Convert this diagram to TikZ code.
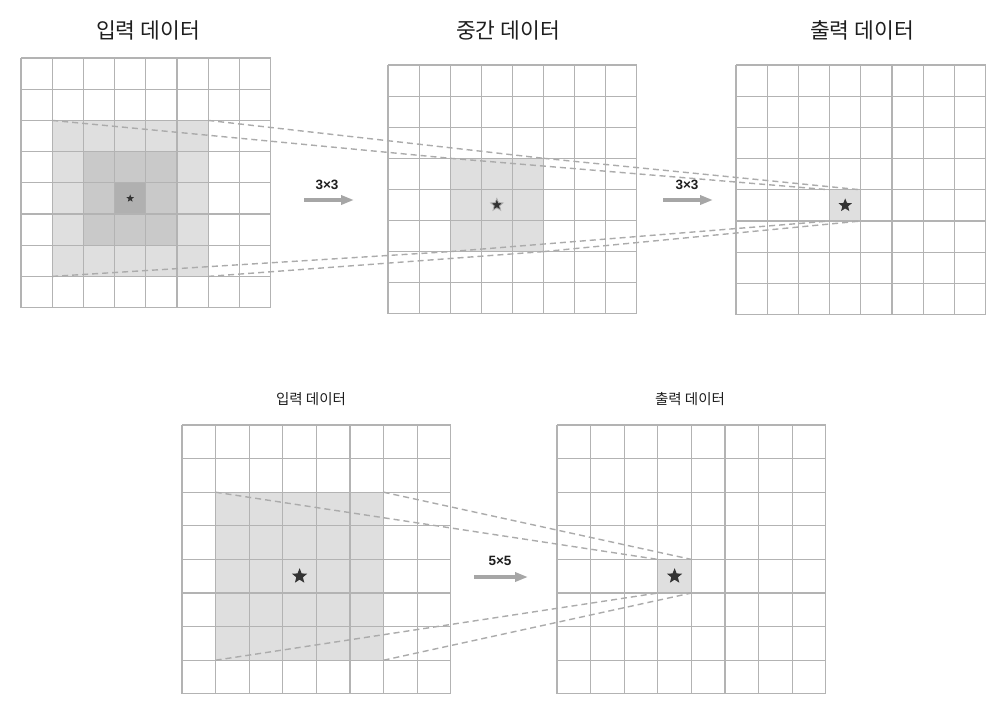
\documentclass[tikz,border=0pt]{standalone}
\usepackage{fontspec}
\newfontfamily\kr{Noto Sans CJK KR}
\setsansfont{Liberation Sans}
\usetikzlibrary{shapes.geometric,arrows.meta}
\definecolor{gridc}{HTML}{B3B3B3}
\definecolor{lightg}{HTML}{DFDFDF}
\definecolor{midg}{HTML}{C9C9C9}
\definecolor{darkg}{HTML}{B0B0B0}
\definecolor{dashc}{HTML}{ABABAB}
\definecolor{arrowc}{HTML}{A6A6A6}
\definecolor{starc}{HTML}{333333}
\definecolor{textc}{HTML}{1E1E1E}
\tikzset{
  gridline/.style={draw=gridc, line width=1.1pt},
  dashline/.style={draw=dashc, line width=1.4pt, dash pattern=on 6pt off 4pt},
  bigarrow/.style={draw=arrowc, line width=3.6pt, -{Triangle[length=13pt,width=9pt]}},
  starnode/.style={star, star points=5, star point ratio=2.3, fill=starc, inner sep=0pt},
  bigtitle/.style={font=\kr\fontsize{21.5}{24}\selectfont, text=textc, inner sep=0pt},
  smalltitle/.style={font=\kr\fontsize{14.5}{17}\selectfont, text=textc, inner sep=0pt},
  oplabel/.style={font=\sffamily\bfseries\fontsize{13.5}{15}\selectfont, text=textc, inner sep=0pt},
}
\newcommand{\gridlines}{%
  \foreach \i in {0,...,8} {
    \draw[gridline] (\i,0) -- (\i,8);
    \draw[gridline] (0,\i) -- (8,\i);
  }%
}
\begin{document}
\begin{tikzpicture}[x=1pt,y=-1pt]
\useasboundingbox[fill=white] (0,0) rectangle (1007,713);

% ---------- top: input ----------
\begin{scope}[shift={(21,58)}, x=31.2pt, y=-31.2pt]
  \fill[lightg] (1,2) rectangle (6,7);
  \fill[midg] (2,3) rectangle (5,6);
  \fill[darkg] (3,4) rectangle (4,5);
  \gridlines
  \coordinate (iTL) at (1,2); \coordinate (iTR) at (6,2);
  \coordinate (iBL) at (1,7); \coordinate (iBR) at (6,7);
  \node[starnode, minimum size=8pt] (istar) at (3.5,4.5) {};
\end{scope}

% ---------- top: intermediate ----------
\begin{scope}[shift={(388,65)}, x=31.1pt, y=-31.1pt]
  \fill[lightg] (2,3) rectangle (5,6);
  \gridlines
  \coordinate (mTL) at (2,3); \coordinate (mTR) at (5,3);
  \coordinate (mBL) at (2,6); \coordinate (mBR) at (5,6);
  \node[starnode, minimum size=13pt, draw=darkg, line width=0.8pt] (mstar) at (3.5,4.5) {};
\end{scope}

% ---------- top: output ----------
\begin{scope}[shift={(736,65)}, x=31.2pt, y=-31.2pt]
  \fill[lightg] (3,4) rectangle (4,5);
  \gridlines
  \coordinate (oTL) at (3,4); \coordinate (oTR) at (4,4);
  \coordinate (oBL) at (3,5); \coordinate (oBR) at (4,5);
  \node[starnode, minimum size=14pt] (ostar) at (3.5,4.5) {};
\end{scope}

% top dashed projections
\draw[dashline] (iTL) -- (mTL);
\draw[dashline] (iTR) -- (mTR);
\draw[dashline] (iBL) -- (mBL);
\draw[dashline] (iBR) -- (mBR);
\draw[dashline] (mTL) -- (oTL);
\draw[dashline] (mTR) -- (oTR);
\draw[dashline] (mBL) -- (oBL);
\draw[dashline] (mBR) -- (oBR);

% top titles
\node[bigtitle] (t1) at (148,30) {입력 데이터};
\node[bigtitle] (t2) at (508,30) {중간 데이터};
\node[bigtitle] (t3) at (862,30) {출력 데이터};

% top arrows
\coordinate (a1s) at (304,200); \coordinate (a1e) at (354,200);
\draw[bigarrow] (a1s) -- (a1e);
\node[oplabel] (l1) at (327,185) {3×3};
\coordinate (a2s) at (663,200); \coordinate (a2e) at (713,200);
\draw[bigarrow] (a2s) -- (a2e);
\node[oplabel] (l2) at (687,185) {3×3};

% ---------- bottom: input ----------
\begin{scope}[shift={(182,425)}, x=33.6pt, y=-33.6pt]
  \fill[lightg] (1,2) rectangle (6,7);
  \gridlines
  \coordinate (bTL) at (1,2); \coordinate (bTR) at (6,2);
  \coordinate (bBL) at (1,7); \coordinate (bBR) at (6,7);
  \node[starnode, minimum size=16pt] (bstar) at (3.5,4.5) {};
\end{scope}

% ---------- bottom: output ----------
\begin{scope}[shift={(557,425)}, x=33.6pt, y=-33.6pt]
  \fill[lightg] (3,4) rectangle (4,5);
  \gridlines
  \coordinate (cTL) at (3,4); \coordinate (cTR) at (4,4);
  \coordinate (cBL) at (3,5); \coordinate (cBR) at (4,5);
  \node[starnode, minimum size=16pt] (cstar) at (3.5,4.5) {};
\end{scope}

\draw[dashline] (bTL) -- (cTL);
\draw[dashline] (bTR) -- (cTR);
\draw[dashline] (bBL) -- (cBL);
\draw[dashline] (bBR) -- (cBR);

\node[smalltitle] (t4) at (311,399) {입력 데이터};
\node[smalltitle] (t5) at (690,399) {출력 데이터};

\coordinate (a3s) at (474,577); \coordinate (a3e) at (528,577);
\draw[bigarrow] (a3s) -- (a3e);
\node[oplabel] (l3) at (500,561) {5×5};
\end{tikzpicture}
\end{document}
